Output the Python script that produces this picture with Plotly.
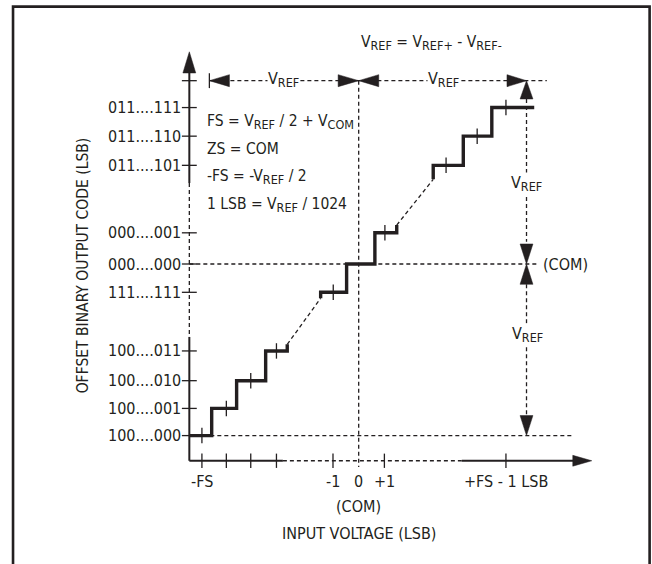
import plotly.graph_objects as go

# x in LSB from COM, y in output codes from 000...000
code_labels = ["011....111", "011....110", "011....101", "000....001", "000....000",
               "111....111", "100....011", "100....010", "100....001", "100....000"]
code_levels = [5.47, 4.47, 3.45, 1.09, 0.0, -0.99, -3.04, -4.08, -5.05, -6.0]
vref_level = 6.41

input_ticks = [-6.1, -5.15, -4.2, -3.2, -1.0, 1.0, 5.73]
input_labels = ["-FS", "", "", "", "-1", "+1", "+FS - 1 LSB"]

# staircase pieces: transition edges, codes, start/end stubs
low_edges = [-6.59, -5.72, -4.75, -3.62, -2.78]
low_codes = [-6.0, -5.05, -4.08, -3.04]
low_stubs = [None, -2.81]
mid_edges = [-1.48, -0.47, 0.63, 1.48]
mid_codes = [-0.99, 0.0, 1.09]
mid_stubs = [-1.20, 1.36]
high_edges = [2.90, 4.07, 5.18, 6.83]
high_codes = [3.45, 4.47, 5.47]
high_stubs = [2.96, None]

# code centre marks on the steps
mark_x = [-6.1, -5.15, -4.2, -3.2, -0.99, 1.02, 3.40, 4.61, 5.73]
mark_y = [-6.0, -5.05, -4.08, -3.04, -0.99, 1.09, 3.45, 4.47, 5.47]

AX_X = -6.59    # y axis position
AX_Y = -6.88    # x axis position
DIM_X = 6.53    # vertical VREF dimension line
INK = "#231f20"
FONT = "DejaVu Sans Condensed, DejaVu Sans, sans-serif"
VREF = "V<sub><span style='font-size:12.5px'>REF</span></sub>"


def stair(edges, codes, stubs):
    xs, ys = [], []
    if stubs[0] is not None:
        xs.append(edges[0]); ys.append(stubs[0])
    for i, c in enumerate(codes):
        xs += [edges[i], edges[i + 1]]
        ys += [c, c]
    if stubs[1] is not None:
        xs.append(edges[-1]); ys.append(stubs[1])
    return xs, ys


def segs(pairs):
    xs, ys = [], []
    for (x0, y0), (x1, y1) in pairs:
        xs += [x0, x1, None]
        ys += [y0, y1, None]
    return xs, ys


def arrow(tx, ty, d, length, half):
    # d: 'u','d','l','r'
    if d == "u":
        return [tx, tx - half, tx + half, tx, None], [ty, ty - length, ty - length, ty, None]
    if d == "d":
        return [tx, tx - half, tx + half, tx, None], [ty, ty + length, ty + length, ty, None]
    if d == "l":
        return [tx, tx + length, tx + length, tx, None], [ty, ty - half, ty + half, ty, None]
    return [tx, tx - length, tx - length, tx, None], [ty, ty - half, ty + half, ty, None]


fig = go.Figure()


def line(xs, ys, width=1.3, dash=None, color=INK):
    fig.add_trace(go.Scatter(x=xs, y=ys, mode="lines", hoverinfo="skip",
                             line=dict(color=color, width=width, dash=dash)))


DASH = "4px,3px"

# frame
line([-13.45, -13.45, 11.32, 11.32], [-10.6, 9.0, 9.0, -10.6], width=2.6)

# guide lines
line(*segs([((0, vref_level), (0, -7.10)),
            ((AX_X, 0), (6.93, 0)),
            ((AX_X, -6.0), (8.29, -6.0)),
            ((-5.81, vref_level), (7.32, vref_level)),
            ((DIM_X, 5.77), (DIM_X, 0.78)),
            ((DIM_X, -0.71), (DIM_X, -5.28))]), dash=DASH)

# axes
line(*segs([((AX_X, 6.9), (AX_X, 2.83)), ((AX_X, -2.55), (AX_X, AX_Y)),
            ((AX_X, AX_Y), (-2.95, AX_Y)), ((4.01, AX_Y), (8.4, AX_Y))]), width=2)
line(*segs([((AX_X, 2.83), (AX_X, -2.55)), ((-2.95, AX_Y), (4.01, AX_Y))]), dash=DASH)

# axis ticks
ty = [((AX_X - 0.29, v), (AX_X + 0.29, v)) for v in code_levels + [vref_level]]
tx = [((v, AX_Y - 0.25), (v, AX_Y + 0.25)) for v in input_ticks]
line(*segs(ty + tx), width=1.3)
# bar at left end of top dimension
line(*segs([((-5.81, vref_level - 0.26), (-5.81, vref_level + 0.26))]), width=1.3)

# staircase
for e, c, s in [(low_edges, low_codes, low_stubs), (mid_edges, mid_codes, mid_stubs),
                (high_edges, high_codes, high_stubs)]:
    line(*stair(e, c, s), width=3.4)
# dashed links between pieces
line(*segs([((low_edges[-1], low_stubs[1]), (mid_edges[0], mid_stubs[0])),
            ((mid_edges[-1], mid_stubs[1]), (high_edges[0], high_stubs[0]))]), dash=DASH)
# code centre marks
line(*segs([((x, y - 0.27), (x, y + 0.27)) for x, y in zip(mark_x, mark_y)]), width=1.3)

# arrowheads
ax_, ay_ = [], []
for a in [arrow(AX_X, 7.42, "u", 0.74, 0.25),
          arrow(9.07, AX_Y, "r", 0.74, 0.19),
          arrow(-5.81, vref_level, "l", 0.78, 0.21),
          arrow(0, vref_level, "r", 0.80, 0.21),
          arrow(0, vref_level, "l", 0.78, 0.21),
          arrow(DIM_X, vref_level, "r", 0.76, 0.21),
          arrow(DIM_X, vref_level, "u", 0.64, 0.25),
          arrow(DIM_X, 0, "d", 0.70, 0.25),
          arrow(DIM_X, 0, "u", 0.71, 0.25),
          arrow(DIM_X, -6.0, "d", 0.70, 0.25)]:
    ax_ += a[0]
    ay_ += a[1]
fig.add_trace(go.Scatter(x=ax_, y=ay_, mode="lines", fill="toself", fillcolor=INK,
                         line=dict(color=INK, width=0.5), hoverinfo="skip"))

# text
ann = []
for lab, v in zip(code_labels, code_levels):
    ann.append(dict(x=AX_X - 0.30, y=v, text=lab, xanchor="right"))
for lab, v in zip(input_labels, input_ticks):
    if lab:
        ann.append(dict(x=v, y=-7.59, text=lab))
ann += [
    dict(x=0, y=-7.59, text="0"),
    dict(x=0, y=-8.49, text="(COM)"),
    dict(x=0, y=-9.42, text="INPUT VOLTAGE (LSB)"),
    dict(x=-10.73, y=-0.05, text="OFFSET BINARY OUTPUT CODE (LSB)", textangle=-90,
         size=15.5),
    dict(x=2.84, y=7.72, text=VREF + " = V<sub><span style='font-size:12.5px'>REF+</span></sub>"
         " - V<sub><span style='font-size:12.5px'>REF-</span></sub>", size=15.5),
    dict(x=-2.93, y=vref_level + 0.05, text=VREF, bgcolor="white"),
    dict(x=3.29, y=vref_level + 0.05, text=VREF, bgcolor="white"),
    dict(x=DIM_X, y=2.82, text=VREF, bgcolor="white"),
    dict(x=DIM_X + 0.05, y=-2.48, text=VREF, bgcolor="white"),
    dict(x=7.12, y=0, text="(COM)", xanchor="left"),
]
eqs = ["FS = " + VREF + " / 2 + V<sub><span style='font-size:12.5px'>COM</span></sub>",
       "ZS = COM", "-FS = -" + VREF + " / 2", "1 LSB = " + VREF + " / 1024"]
for t, yv in zip(eqs, [4.98, 4.01, 3.05, 2.06]):
    ann.append(dict(x=-5.94, y=yv, text=t, xanchor="left", size=15.5))
for a in ann:
    size = a.pop("size", 16)
    a.setdefault("xanchor", "center")
    a.update(showarrow=False, yanchor="middle", borderpad=0,
             font=dict(family=FONT, size=size, color=INK))

fig.update_layout(
    width=652, height=564, margin=dict(l=0, r=0, t=0, b=0),
    paper_bgcolor="white", plot_bgcolor="white", showlegend=False,
    annotations=ann,
    xaxis=dict(range=[-13.957, 11.413], visible=False, fixedrange=True),
    yaxis=dict(range=[-10.49, 9.231], visible=False, fixedrange=True),
)

fig.write_html("out.html", config={"displayModeBar": False},
               post_script="document.body.style.margin='0px';")
